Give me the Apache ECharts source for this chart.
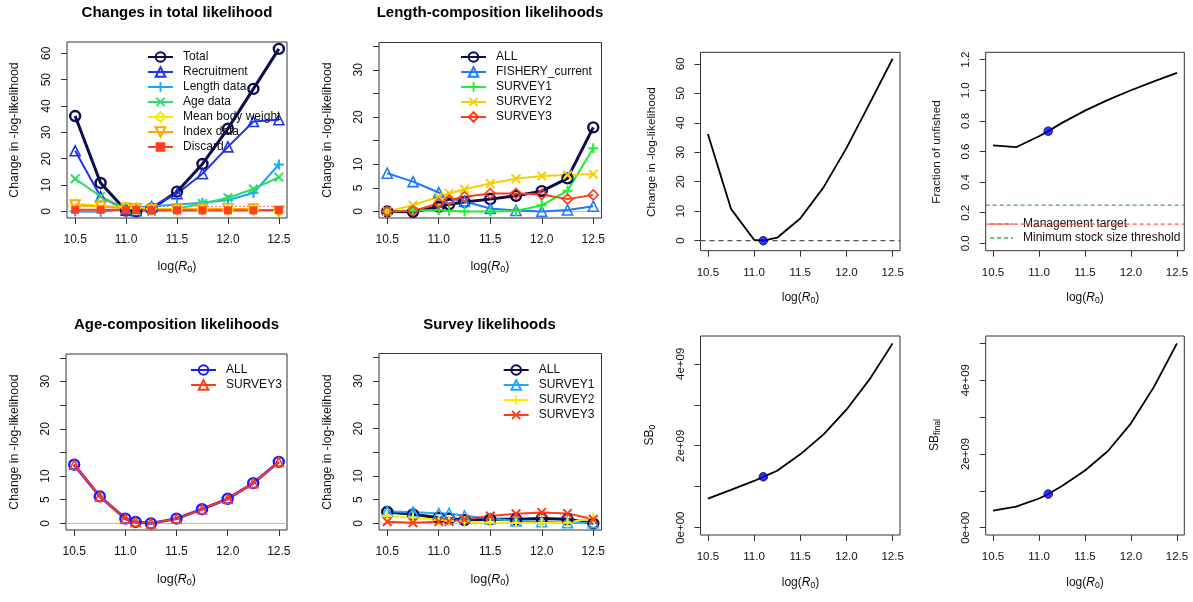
<!DOCTYPE html>
<html>
<head>
<meta charset="utf-8">
<script src="https://cdn.jsdelivr.net/npm/echarts@6/dist/echarts.min.js"></script>
<style>
  html, body { margin: 0; padding: 0; background: #fff; }
  #chart { width: 1193px; height: 602px; }
</style>
</head>
<body>
<div id="chart"></div>
<script>
// Likelihood profile over log(R0)
const logR0 = [10.5, 10.75, 11.0, 11.1, 11.25, 11.5, 11.75, 12.0, 12.25, 12.5];
const mleIndex = 3; // estimated log(R0)

// Changes in total likelihood, by component
const total          = [36.2, 10.8, 0.3, 0.0, 1.0, 7.5, 18.0, 31.4, 46.5, 61.7];
const recruitment    = [23.0, 5.6, 0.5, 0.3, 1.8, 6.7, 14.3, 24.5, 34.1, 34.8];
const lengthData     = [0.0, -0.1, 1.0, 1.5, 2.0, 2.6, 3.3, 4.3, 7.0, 17.8];
const ageData        = [12.4, 5.7, 1.0, 0.3, 0.0, 1.0, 3.0, 5.2, 8.5, 13.0];
const meanBodyWeight = [2.8, 2.3, 1.5, 1.4, 1.0, 0.8, 0.7, 0.6, 0.5, 0.0];
const indexData      = [2.4, 1.9, 1.2, 1.0, 0.7, 0.85, 0.85, 1.0, 0.85, 0.0];
const discard        = [0.6, 0.6, 0.5, 0.5, 0.4, 0.4, 0.4, 0.4, 0.4, 0.5];
const chiSqCutoff    = 1.92;

// Length-composition likelihoods
const lenAll      = [0.0, -0.1, 1.0, 1.5, 2.0, 2.6, 3.3, 4.3, 7.0, 17.8];
const lenFishery  = [8.1, 6.3, 4.0, 2.8, 2.1, 0.6, 0.2, 0.0, 0.3, 1.1];
const lenSurvey1  = [0.0, 0.2, 0.3, 0.15, 0.0, 0.0, 0.1, 1.3, 4.4, 13.4];
const lenSurvey2  = [0.0, 1.3, 3.1, 3.8, 4.7, 5.9, 6.9, 7.5, 7.7, 7.9];
const lenSurvey3  = [0.0, 0.1, 1.7, 2.4, 3.1, 3.8, 3.8, 3.6, 2.6, 3.5];

// Age-composition likelihoods
const ageAll      = [12.4, 5.7, 1.0, 0.3, 0.0, 1.0, 3.0, 5.2, 8.5, 13.0];
const ageSurvey3  = [12.4, 5.7, 1.0, 0.3, 0.0, 1.0, 3.0, 5.2, 8.5, 13.0];

// Survey likelihoods
const srvAll      = [2.4, 1.9, 1.2, 1.0, 0.7, 0.85, 0.85, 1.0, 0.85, 0.0];
const srvSurvey1  = [2.5, 2.4, 2.1, 2.1, 1.6, 1.0, 0.5, 0.35, 0.15, 0.15];
const srvSurvey2  = [1.55, 1.2, 0.7, 0.55, 0.4, 0.15, 0.1, 0.1, 0.15, 1.2];
const srvSurvey3  = [0.35, 0.15, 0.35, 0.4, 0.85, 1.55, 2.0, 2.3, 2.1, 0.85];

// Derived quantities
const fracUnfished = [0.64, 0.628, 0.70, 0.733, 0.787, 0.867, 0.937, 1.0, 1.058, 1.113];
const sb0          = [0.71e9, 0.92e9, 1.14e9, 1.24e9, 1.39e9, 1.79e9, 2.27e9, 2.88e9, 3.62e9, 4.50e9];
const sbFinal      = [0.46e9, 0.57e9, 0.79e9, 0.91e9, 1.13e9, 1.55e9, 2.08e9, 2.83e9, 3.82e9, 5.0e9];
const managementTarget  = 0.125;
const minStockThreshold = 0.25;

// Tick positions and labels
const xTicks       = [10.5, 11.0, 11.5, 12.0, 12.5];
const totTicks     = [0, 10, 20, 30, 40, 50, 60];
const compTicks    = [0, 5, 10, 15, 20, 25, 30, 35];
const compLabels   = [0, 5, 10, 20, 30];
const fracTicks    = [0, 0.2, 0.4, 0.6, 0.8, 1.0, 1.2];
const sb0Ticks     = [0, 1e9, 2e9, 3e9, 4e9];
const sbFinalTicks = [0, 1e9, 2e9, 3e9, 4e9, 5e9];
const sbLabels     = [0, 2e9, 4e9];

const FONT = '"Liberation Sans", Arial, Helvetica, sans-serif';
const X_MIN = 10.42, X_MAX = 12.58;
const AXIS_COL = '#333';

const sci = v => {
  if (v === 0) return '0e+00';
  const e = Math.floor(Math.log10(v) + 1e-9);
  const m = Math.round(v / Math.pow(10, e));
  return m + 'e+' + String(e).padStart(2, '0');
};
const one = v => (+v).toFixed(1);
const int = v => String(Math.round(v));

const grids = [
  { left: 67,    top: 42,   width: 220,   height: 176 },
  { left: 379,   top: 42.5, width: 222.5, height: 175.5 },
  { left: 66,    top: 354,  width: 221,   height: 176 },
  { left: 379,   top: 353.5,width: 222.5, height: 176.5 },
  { left: 700.5, top: 52.3, width: 199.5, height: 198.4 },
  { left: 985.7, top: 52.3, width: 198.6, height: 198.4 },
  { left: 700.5, top: 336,  width: 199.5, height: 199 },
  { left: 985.7, top: 336,  width: 198.6, height: 199 }
];

const yCfg = [
  { min: -2.5,   max: 64.3,   ticks: totTicks,     labels: totTicks,   fmt: int, fs: 12 },
  { min: -1.4,   max: 35.8,   ticks: compTicks,    labels: compLabels, fmt: int, fs: 12 },
  { min: -1.4,   max: 35.8,   ticks: compTicks,    labels: compLabels, fmt: int, fs: 12 },
  { min: -1.4,   max: 35.8,   ticks: compTicks,    labels: compLabels, fmt: int, fs: 12 },
  { min: -3.4,   max: 63.9,   ticks: totTicks,     labels: totTicks,   fmt: int, fs: 11.5 },
  { min: -0.048, max: 1.248,  ticks: fracTicks,    labels: fracTicks,  fmt: one, fs: 11.5 },
  { min: -0.18e9,max: 4.68e9, ticks: sb0Ticks,     labels: sbLabels,   fmt: sci, fs: 11.5 },
  { min: -0.2e9, max: 5.2e9,  ticks: sbFinalTicks, labels: sbLabels,   fmt: sci, fs: 11.5 }
];

const xAxes = grids.map((g, i) => ({
  gridIndex: i, type: 'value', min: X_MIN, max: X_MAX,
  axisLine: { show: false, onZero: false },
  splitLine: { show: false },
  axisTick: { show: true, customValues: xTicks, length: 6, lineStyle: { color: AXIS_COL, width: 1 } },
  axisLabel: { customValues: xTicks, formatter: one, fontSize: i < 4 ? 12 : 11.5,
               color: '#111', fontFamily: FONT, margin: 16 }
}));

const yAxes = yCfg.map((c, i) => ({
  gridIndex: i, type: 'value', min: c.min, max: c.max,
  axisLine: { show: false, onZero: false },
  splitLine: { show: false },
  axisTick: { show: true, customValues: c.ticks, length: 6, lineStyle: { color: AXIS_COL, width: 1 } },
  axisLabel: { customValues: c.labels, formatter: c.fmt, fontSize: c.fs, rotate: 90,
               color: '#111', fontFamily: FONT, margin: 14 }
}));

const pts = vals => logR0.map((x, i) => [x, vals[i]]);
const hline = y => [[X_MIN, y], [X_MAX, y]];

const SYM = {
  circle: 'circle',
  triangle: 'triangle',
  invTriangle: 'path://M0,0L10,0L5,8.66Z',
  diamond: 'diamond',
  plus: 'path://M0,4H10V6H0Z M4,0H6V10H4Z',
  cross: 'path://M0,1.4L1.4,0L10,8.6L8.6,10Z M8.6,0L10,1.4L1.4,10L0,8.6Z',
  square: 'rect'
};
const OPEN = { circle: 1, triangle: 1, invTriangle: 1, diamond: 1 };

function comp(gi, name, vals, color, sym, size, lw) {
  const open = !!OPEN[sym];
  return {
    type: 'line', name: name, xAxisIndex: gi, yAxisIndex: gi, data: pts(vals),
    symbol: SYM[sym], symbolSize: size, showSymbol: true, silent: true,
    lineStyle: { color: color, width: lw },
    itemStyle: open
      ? { color: 'rgba(255,255,255,0)', borderColor: color, borderWidth: lw >= 2.5 ? 2.4 : 1.6 }
      : { color: color, borderWidth: 0 }
  };
}
function ref(gi, y, color, width, dash, name) {
  return {
    type: 'line', name: name, xAxisIndex: gi, yAxisIndex: gi, data: hline(y),
    showSymbol: false, symbol: 'none', silent: true,
    lineStyle: { color: color, width: width, type: dash || 'solid' }
  };
}

const NAVY = '#0c0c4e';
const RED = '#ff3b1a';

const series = [
  // Changes in total likelihood
  ref(0, 0, '#bbbbbb', 1, null, 'z0'),
  ref(0, chiSqCutoff, '#ff7070', 1, [2, 2], 'cut0'),
  comp(0, 'a|Total', total, NAVY, 'circle', 10, 3),
  comp(0, 'a|Recruitment', recruitment, '#2233ee', 'triangle', 10, 2),
  comp(0, 'a|Length data', lengthData, '#1aa3ff', 'plus', 10, 2),
  comp(0, 'a|Age data', ageData, '#30dd66', 'cross', 10, 2),
  comp(0, 'a|Mean body weight', meanBodyWeight, '#eeee00', 'diamond', 10, 2),
  comp(0, 'a|Index data', indexData, '#ffa600', 'invTriangle', 10, 2),
  comp(0, 'a|Discard', discard, '#ff4020', 'square', 8, 2),

  // Length-composition likelihoods
  ref(1, 0, '#bbbbbb', 1, null, 'z1'),
  comp(1, 'b|ALL', lenAll, NAVY, 'circle', 10, 3),
  comp(1, 'b|FISHERY_current', lenFishery, '#2277ff', 'triangle', 10, 2),
  comp(1, 'b|SURVEY1', lenSurvey1, '#22ee33', 'plus', 10, 2),
  comp(1, 'b|SURVEY2', lenSurvey2, '#f5d000', 'cross', 10, 2),
  comp(1, 'b|SURVEY3', lenSurvey3, RED, 'diamond', 10, 2),

  // Age-composition likelihoods
  ref(2, 0, '#bbbbbb', 1, null, 'z2'),
  comp(2, 'c|ALL', ageAll, '#1a1aff', 'circle', 10, 3),
  comp(2, 'c|SURVEY3', ageSurvey3, RED, 'triangle', 9, 2),

  // Survey likelihoods
  ref(3, 0, '#bbbbbb', 1, null, 'z3'),
  comp(3, 'd|ALL', srvAll, NAVY, 'circle', 10, 3),
  comp(3, 'd|SURVEY1', srvSurvey1, '#22a7ff', 'triangle', 10, 2),
  comp(3, 'd|SURVEY2', srvSurvey2, '#f5f000', 'plus', 10, 2),
  comp(3, 'd|SURVEY3', srvSurvey3, RED, 'cross', 10, 2),

  // Total profile
  ref(4, 0, '#555555', 1.2, [5, 4], 'z4'),
  { type: 'line', name: 'prof', xAxisIndex: 4, yAxisIndex: 4, data: pts(total),
    showSymbol: false, symbol: 'none', silent: true, lineStyle: { color: '#000', width: 1.8 } },

  // Fraction of unfished
  { type: 'line', name: 'frac', xAxisIndex: 5, yAxisIndex: 5, data: pts(fracUnfished),
    showSymbol: false, symbol: 'none', silent: true, lineStyle: { color: '#000', width: 1.8 } },
  ref(5, minStockThreshold, '#55a055', 1.3, [4, 3], 'mst'),
  ref(5, managementTarget, '#ff5050', 1.3, [4, 3], 'mt'),

  // SB0 and SBfinal
  { type: 'line', name: 'sb0', xAxisIndex: 6, yAxisIndex: 6, data: pts(sb0),
    showSymbol: false, symbol: 'none', silent: true, lineStyle: { color: '#000', width: 1.8 } },
  { type: 'line', name: 'sbf', xAxisIndex: 7, yAxisIndex: 7, data: pts(sbFinal),
    showSymbol: false, symbol: 'none', silent: true, lineStyle: { color: '#000', width: 1.8 } }
];

// Estimated points
[[4, total], [5, fracUnfished], [6, sb0], [7, sbFinal]].forEach(([gi, vals]) => {
  series.push({
    type: 'scatter', xAxisIndex: gi, yAxisIndex: gi, silent: true,
    data: [[logR0[mleIndex], vals[mleIndex]]], symbolSize: 8.5,
    itemStyle: { color: '#0000ff', borderColor: '#00003a', borderWidth: 1 }, z: 5
  });
});

const legendBase = {
  orient: 'vertical', itemWidth: 25, itemHeight: 12, itemGap: 3, padding: 0,
  selectedMode: false, formatter: n => n.split('|')[1],
  textStyle: { fontSize: 12, color: '#111', fontFamily: FONT, lineHeight: 12, padding: [0, 0, 0, 5] }
};
const namesOf = p => series.filter(s => s.name && s.name.startsWith(p + '|')).map(s => s.name);
const legends = [
  Object.assign({}, legendBase, { left: 147, top: 51, data: namesOf('a') }),
  Object.assign({}, legendBase, { left: 460, top: 51, data: namesOf('b') }),
  Object.assign({}, legendBase, { left: 190, top: 364, data: namesOf('c') }),
  Object.assign({}, legendBase, { left: 502.7, top: 364, data: namesOf('d') })
];

// Titles and axis names
const graphics = [];
const titleText = (x, y, t) => graphics.push({
  type: 'text', x: x, y: y,
  style: { text: t, font: 'bold 15px ' + FONT, fill: '#000', align: 'center', verticalAlign: 'middle' }
});
const RICH = fs => ({
  n: { fontSize: fs, fontFamily: FONT, fill: '#111', color: '#111' },
  i: { fontSize: fs, fontFamily: FONT, fontStyle: 'italic', color: '#111' },
  s: { fontSize: fs * 0.72, fontFamily: FONT, color: '#111', verticalAlign: 'bottom', padding: [fs * 0.45, 0, 0, 0] }
});
const xName = (x, y, fs) => graphics.push({
  type: 'text', x: x, y: y,
  style: { text: '{n|log(}{i|R}{s|0}{n|)}', rich: RICH(fs), align: 'center', verticalAlign: 'middle' }
});
const yName = (x, y, txt, fs) => graphics.push({
  type: 'text', x: x, y: y, rotation: Math.PI / 2,
  style: { text: txt, rich: RICH(fs), align: 'center', verticalAlign: 'middle' }
});

titleText(177, 13, 'Changes in total likelihood');
titleText(490, 13, 'Length-composition likelihoods');
titleText(176.5, 325, 'Age-composition likelihoods');
titleText(489.5, 325, 'Survey likelihoods');

xName(177, 267, 12.5); xName(490, 267, 12.5);
xName(176.5, 580, 12.5); xName(490, 580, 12.5);
xName(800.5, 298, 12); xName(1085, 298, 12);
xName(800.5, 583, 12); xName(1085, 583, 12);

const cl = '{n|Change in -log-likelihood}';
yName(15, 130, cl, 12.3); yName(328, 130, cl, 12.3);
yName(15, 442, cl, 12.3); yName(328, 442, cl, 12.3);
yName(651.5, 152, cl, 11.8);
yName(936.5, 152, '{n|Fraction of unfished}', 11.8);
yName(650, 435, '{n|SB}{s|0}', 12);
yName(935, 435, '{n|SB}{s|final}', 12);

// Reference-line key for the fraction panel
[[224, '#ff5050', 'Management target'], [238, '#55a055', 'Minimum stock size threshold']]
  .forEach(([y, c, t]) => {
    graphics.push({ type: 'line', shape: { x1: 990, y1: y, x2: 1013, y2: y },
      style: { stroke: c, lineWidth: 1.3, lineDash: [4, 3] } });
    graphics.push({ type: 'text', x: 1023, y: y,
      style: { text: t, font: '12px ' + FONT, fill: '#111', align: 'left', verticalAlign: 'middle' } });
  });

const chart = echarts.init(document.getElementById('chart'), null, { renderer: 'canvas' });
chart.setOption({
  animation: false,
  backgroundColor: '#fff',
  grid: grids.map(g => Object.assign({ show: true, borderColor: AXIS_COL, borderWidth: 1,
                                        backgroundColor: 'transparent', containLabel: false }, g)),
  xAxis: xAxes,
  yAxis: yAxes,
  legend: legends,
  graphic: graphics,
  series: series
});
</script>
</body>
</html>
